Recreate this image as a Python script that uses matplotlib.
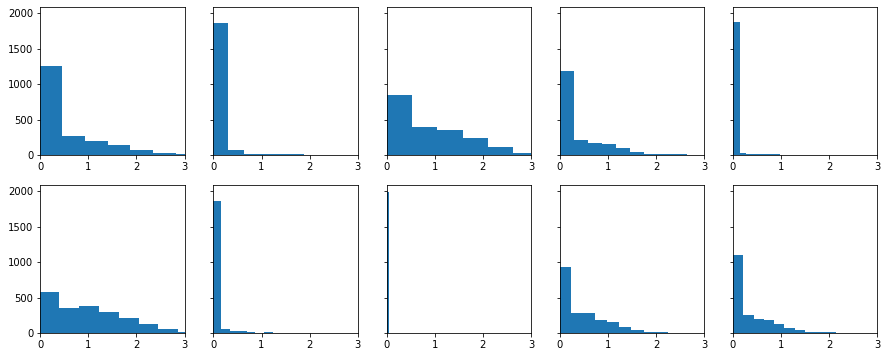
import matplotlib
matplotlib.use("Agg")
import matplotlib.pyplot as plt

# Bin edges and counts for each of the ten histograms (row-major order)
edges_1 = [0, 0.45, 0.93, 1.40, 1.87, 2.34, 2.82, 3.29, 3.76, 4.23, 4.70]
counts_1 = [1256, 268, 198, 141, 71, 42, 16, 5, 3, 2]

edges_2 = [0, 0.313, 0.626, 0.939, 1.252, 1.565, 1.878, 2.191, 2.504, 2.817, 3.13]
counts_2 = [1859, 71, 28, 16, 16, 16, 3, 2, 1, 1]

edges_3 = [0, 0.527, 1.054, 1.58, 2.11, 2.635, 3.16, 3.69, 4.21, 4.74, 5.27]
counts_3 = [847, 395, 353, 240, 113, 42, 6, 2, 1, 1]

edges_4 = [0, 0.293, 0.586, 0.879, 1.172, 1.465, 1.758, 2.051, 2.344, 2.637, 2.93]
counts_4 = [1195, 222, 180, 165, 110, 54, 28, 28, 16, 2]

edges_5 = [0, 0.14, 0.28, 0.42, 0.56, 0.70, 0.84, 0.98, 1.12, 1.26, 1.40]
counts_5 = [1880, 42, 28, 16, 16, 16, 16, 1, 1, 1]

edges_6 = [0, 0.389, 0.806, 1.222, 1.639, 2.049, 2.45, 2.86, 3.27, 3.68, 4.09]
counts_6 = [575, 350, 378, 295, 210, 127, 58, 17, 3, 1]

edges_7 = [0, 0.167, 0.34, 0.51, 0.69, 0.87, 1.05, 1.24, 1.41, 1.58, 1.75]
counts_7 = [1865, 57, 30, 30, 16, 0, 16, 0, 0, 1]

edges_8 = [0, 0.048, 0.096, 0.144, 0.192, 0.24, 0.288, 0.336, 0.384, 0.432, 0.48]
counts_8 = [1986, 6, 3, 2, 1, 0, 1, 0, 0, 1]

edges_9 = [0, 0.241, 0.492, 0.738, 0.986, 1.234, 1.48, 1.75, 2.0, 2.25, 2.50]
counts_9 = [940, 282, 282, 183, 155, 86, 44, 16, 16, 2]

edges_10 = [0, 0.214, 0.428, 0.642, 0.856, 1.07, 1.284, 1.498, 1.712, 1.926, 2.14]
counts_10 = [1097, 254, 197, 183, 127, 72, 44, 16, 16, 16]

all_edges = [edges_1, edges_2, edges_3, edges_4, edges_5,
             edges_6, edges_7, edges_8, edges_9, edges_10]
all_counts = [counts_1, counts_2, counts_3, counts_4, counts_5,
              counts_6, counts_7, counts_8, counts_9, counts_10]

x_ticks = [0, 1, 2, 3]

DPI = 72
fig, axes = plt.subplots(2, 5, sharey=True, figsize=(887 / DPI, 357 / DPI), dpi=DPI)
fig.subplots_adjust(left=0.0454, right=0.989, bottom=0.0664, top=0.9795,
                    wspace=0.2, hspace=0.2)

for ax, e, c in zip(axes.flat, all_edges, all_counts):
    ax.hist(e[:-1], bins=e, weights=c, color="#1f77b4")
    ax.set_xlim(0, 3)
    ax.set_xticks(x_ticks)

axes[0, 0].set_yticks([0, 500, 1000, 1500, 2000])

fig.savefig("out.png", dpi=DPI, facecolor="white")
